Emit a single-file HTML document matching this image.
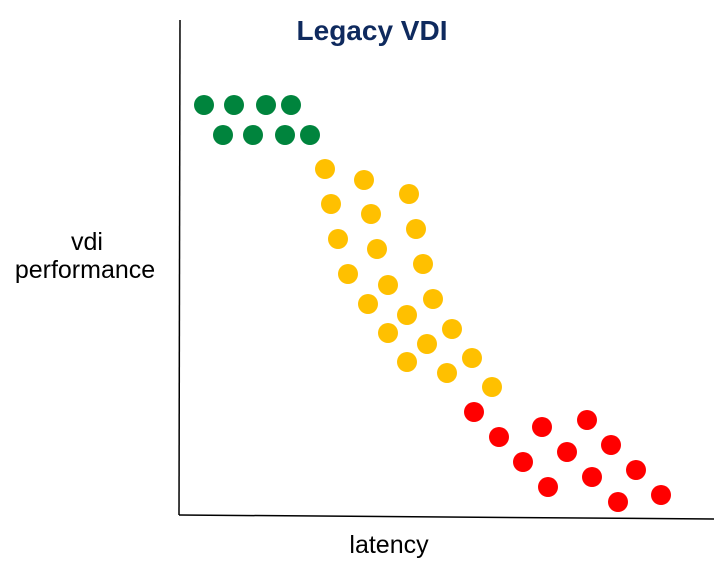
<!DOCTYPE html>
<html><head><meta charset="utf-8"><style>html,body{margin:0;padding:0;background:#fff;}</style></head>
<body>
<svg width="714" height="572" xmlns="http://www.w3.org/2000/svg" style="display:block">
<rect width="714" height="572" fill="#fff"/>
<line x1="180" y1="20" x2="179" y2="515" stroke="#000" stroke-width="1.5"/>
<line x1="179" y1="515" x2="714" y2="519" stroke="#000" stroke-width="1.5"/>
<text x="372" y="40" text-anchor="middle" font-family="Liberation Sans, sans-serif" font-weight="bold" font-size="28" fill="#0f2a5e">Legacy VDI</text>
<text x="87" y="250" text-anchor="middle" font-family="Liberation Sans, sans-serif" font-size="25" fill="#000">vdi</text>
<text x="85" y="278" text-anchor="middle" font-family="Liberation Sans, sans-serif" font-size="25" fill="#000">performance</text>
<text x="389" y="553" text-anchor="middle" font-family="Liberation Sans, sans-serif" font-size="25" fill="#000">latency</text>
<g fill="#00843d">
<circle cx="204" cy="105" r="10"/><circle cx="234" cy="105" r="10"/><circle cx="266" cy="105" r="10"/><circle cx="291" cy="105" r="10"/>
<circle cx="223" cy="135" r="10"/><circle cx="253" cy="135" r="10"/><circle cx="285" cy="135" r="10"/><circle cx="310" cy="135" r="10"/>
</g>
<g fill="#ffc000">
<circle cx="325" cy="169" r="10"/><circle cx="364" cy="180" r="10"/><circle cx="409" cy="194" r="10"/>
<circle cx="331" cy="204" r="10"/><circle cx="371" cy="214" r="10"/><circle cx="416" cy="229" r="10"/>
<circle cx="338" cy="239" r="10"/><circle cx="377" cy="249" r="10"/><circle cx="423" cy="264" r="10"/>
<circle cx="348" cy="274" r="10"/><circle cx="388" cy="285" r="10"/><circle cx="433" cy="299" r="10"/>
<circle cx="368" cy="304" r="10"/><circle cx="407" cy="315" r="10"/><circle cx="452" cy="329" r="10"/>
<circle cx="388" cy="333" r="10"/><circle cx="427" cy="344" r="10"/><circle cx="472" cy="358" r="10"/>
<circle cx="407" cy="362" r="10"/><circle cx="447" cy="373" r="10"/><circle cx="492" cy="387" r="10"/>
</g>
<g fill="#ff0000">
<circle cx="474" cy="412" r="10"/><circle cx="499" cy="437" r="10"/><circle cx="542" cy="427" r="10"/><circle cx="587" cy="420" r="10"/>
<circle cx="523" cy="462" r="10"/><circle cx="567" cy="452" r="10"/><circle cx="611" cy="445" r="10"/>
<circle cx="548" cy="487" r="10"/><circle cx="592" cy="477" r="10"/><circle cx="636" cy="470" r="10"/>
<circle cx="618" cy="502" r="10"/><circle cx="661" cy="495" r="10"/>
</g>
</svg>
</body></html>
